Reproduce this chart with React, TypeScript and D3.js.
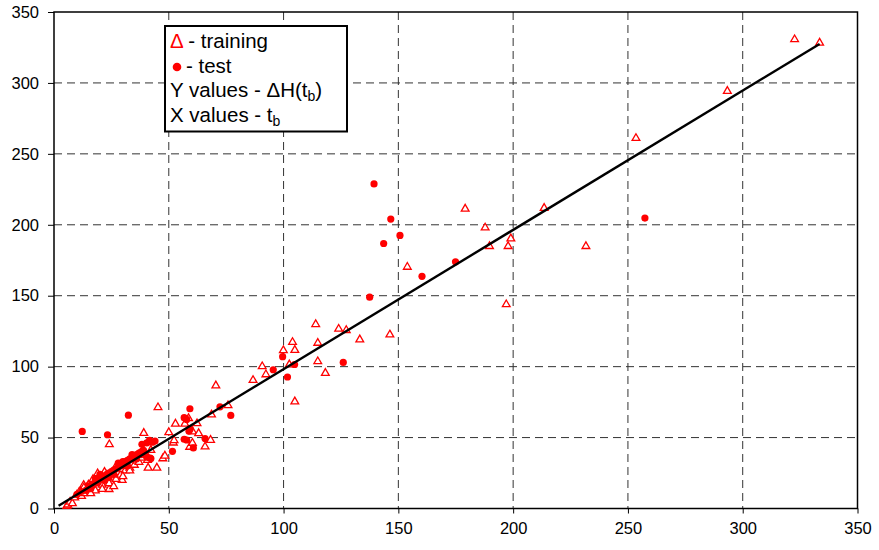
import React, { useEffect, useRef } from 'react';
import * as d3 from 'd3';

// training points [x, y]
const trainingPoints: [number, number][] = [
    [322.6, 331], [333.5, 328.6], [293.3, 294.6], [253.5, 261.4], [179.1, 211.6], [187.8, 198.3],
    [213.5, 212.1], [199, 190.6], [189.7, 185.2], [197.8, 185.2], [231.7, 185.2], [197, 144.2],
    [153.9, 170.6], [114, 130.2], [124, 126.9], [127.3, 126], [133.2, 119.4], [146.3, 122.9],
    [114.9, 117], [103.9, 117.6], [99.9, 111.8], [104.9, 112], [114.9, 104], [102.5, 101.8],
    [90.7, 100.5], [92.3, 94.8], [118.2, 95.8], [86.7, 90.8], [70.5, 87], [104.9, 75.7],
    [75.8, 73], [68.6, 66.5], [45.3, 71.6], [24.1, 45.5], [39.1, 53.5], [52.9, 60], [58.6, 63.9],
    [57, 60], [62.3, 60.3], [60.4, 54.5], [50, 54], [63, 53.3], [68.2, 48.6], [59.1, 43.7],
    [65.8, 43.9], [52, 46.7], [42.2, 41.5], [40.7, 34.5], [44.8, 29], [41, 29], [47.4, 35.6],
    [48.3, 37.5], [24, 13.9], [19, 25], [12.9, 16.8], [29.7, 20.3], [5.6, 2.1], [52.3, 48.3],
    [60.3, 46.5], [6, 3], [7, 5], [8, 4], [9, 8], [10, 10], [11, 12], [12, 9], [13, 11], [14, 15],
    [15, 13], [15, 17], [16, 14], [17, 18], [18, 16], [19, 15], [20, 19], [20, 22], [21, 17],
    [22, 20], [23, 24], [24, 18], [25, 22], [26, 25], [27, 21], [28, 26], [29, 24], [30, 28],
    [31, 27], [32, 30], [33, 29], [34, 32], [35, 31], [36, 34], [37, 33], [38, 36], [27, 30],
    [22, 26], [17, 21], [13, 15], [30, 23], [26, 16], [33, 27], [35, 36], [38, 40], [18, 13],
    [16, 11], [21, 14],
];

// test points [x, y]
const testPoints: [number, number][] = [
    [257.4, 204.7], [139.4, 228.8], [146.7, 204], [150.7, 192.5], [143.6, 186.8], [160.3, 163.7],
    [174.9, 173.9], [137.5, 149], [99.6, 107], [104.8, 101.5], [95.5, 97.8], [126, 103],
    [101.7, 92.7], [72.3, 71.7], [77, 65.6], [32.4, 65.8], [12.3, 54.3], [23.3, 52], [59.2, 70.3],
    [56.7, 64], [57.8, 62.8], [59.3, 56.1], [58.8, 54.5], [65.8, 49.3], [56.7, 48.8], [57.8, 48.3],
    [60.7, 42.7], [51.6, 40.3], [38.3, 45.3], [41.6, 48], [44, 47.5], [42.9, 46.7], [40.4, 46.2],
    [40.7, 36.1], [42.2, 35.2], [41.9, 35.6], [40, 37.5],
    [10, 10], [12, 12], [14, 13], [15, 16], [17, 17], [18, 19], [19, 18], [20, 21], [21, 22],
    [22, 23], [23, 24], [24, 25], [25, 26], [26, 27], [27, 28], [28, 29], [29, 30], [30, 31],
    [31, 33], [32, 34], [33, 35], [34, 36], [35, 37], [36, 38], [37, 39], [38, 40], [39, 41],
    [26, 24], [22, 20], [30, 33], [34, 38], [28, 32], [24, 22], [32, 30], [36, 35], [18, 21],
    [16, 14], [20, 24], [38, 38],
];

// fitted line end points
const fitX = [2, 333.5];
const fitY = [2, 327.5];

const xTicks = [0, 50, 100, 150, 200, 250, 300, 350];
const yTicks = [0, 50, 100, 150, 200, 250, 300, 350];

const RED = '#ff0000';

const App: React.FC = () => {
    const chartRef = useRef<SVGSVGElement | null>(null);

    useEffect(() => {
        if (!chartRef.current) return;
        const svg = d3.select(chartRef.current);
        svg.selectAll('*').remove();

        const width = 879;
        const height = 550;
        const left = 54, right = 857.5, top = 12, bottom = 508.5;

        svg.attr('width', width).attr('height', height);

        const x = d3.scaleLinear().domain([0, 350]).range([left, right]);
        const y = d3.scaleLinear().domain([0, 350]).range([bottom, top]);

        svg.append('rect')
            .attr('width', width).attr('height', height).attr('fill', 'white');

        // grid
        const grid = svg.append('g');
        grid.selectAll('line.gx')
            .data(xTicks.filter(t => t > 0 && t < 350))
            .enter().append('line')
            .attr('x1', d => x(d)).attr('x2', d => x(d))
            .attr('y1', top).attr('y2', bottom)
            .attr('stroke', '#333').attr('stroke-width', 1)
            .attr('stroke-dasharray', '8,5');
        grid.selectAll('line.gy')
            .data(yTicks.filter(t => t > 0 && t < 350))
            .enter().append('line')
            .attr('x1', left).attr('x2', right)
            .attr('y1', d => y(d)).attr('y2', d => y(d))
            .attr('stroke', '#333').attr('stroke-width', 1)
            .attr('stroke-dasharray', '8,5');

        // axes
        const xAxis = d3.axisBottom(x).tickValues(xTicks).tickSize(5).tickPadding(9);
        const yAxis = d3.axisLeft(y).tickValues(yTicks).tickSize(6).tickPadding(9);

        const gx = svg.append('g').attr('transform', `translate(0,${bottom})`).call(xAxis);
        const gy = svg.append('g').attr('transform', `translate(${left},0)`).call(yAxis);
        [gx, gy].forEach(g => {
            g.select('.domain').remove();
            g.selectAll('line').attr('stroke', '#000').attr('stroke-width', 1);
            g.selectAll('text')
                .attr('fill', '#000')
                .style('font-family', 'Liberation Sans, Arial, sans-serif')
                .style('font-size', '16.5px');
        });

        // frame
        svg.append('rect')
            .attr('x', left).attr('y', top)
            .attr('width', right - left).attr('height', bottom - top)
            .attr('fill', 'none').attr('stroke', '#000').attr('stroke-width', 1.5);

        // training triangles
        const tri = d3.symbol().type(d3.symbolTriangle).size(26);
        svg.append('g').selectAll('path')
            .data(trainingPoints)
            .enter().append('path')
            .attr('d', tri as any)
            .attr('transform', d => `translate(${x(d[0])},${y(d[1]) + 0.5})`)
            .attr('fill', 'white')
            .attr('stroke', RED)
            .attr('stroke-width', 1.3);

        // test dots
        svg.append('g').selectAll('circle')
            .data(testPoints)
            .enter().append('circle')
            .attr('cx', d => x(d[0]))
            .attr('cy', d => y(d[1]))
            .attr('r', 3.6)
            .attr('fill', RED);

        // fitted line
        const line = d3.line<number>()
            .x((_d, i) => x(fitX[i]))
            .y(d => y(d));
        svg.append('path')
            .attr('d', line(fitY) as string)
            .attr('fill', 'none')
            .attr('stroke', '#000')
            .attr('stroke-width', 2.4);

        // legend
        const lg = svg.append('g').style('font-family', 'Liberation Sans, Arial, sans-serif').style('font-size', '20.5px');
        lg.append('rect')
            .attr('x', 165).attr('y', 26).attr('width', 182).attr('height', 105.5)
            .attr('fill', 'white').attr('stroke', '#000').attr('stroke-width', 2);

        const t1 = lg.append('text').attr('x', 170).attr('y', 48);
        t1.append('tspan').attr('fill', RED).text('Δ');
        t1.append('tspan').attr('fill', '#000').text(' - training');

        lg.append('circle').attr('cx', 177).attr('cy', 67).attr('r', 4.3).attr('fill', RED);
        lg.append('text').attr('x', 186).attr('y', 73).attr('fill', '#000').text('- test');

        const t3 = lg.append('text').attr('x', 170).attr('y', 97).attr('fill', '#000');
        t3.append('tspan').text('Y values - ΔH(t');
        t3.append('tspan').attr('font-size', '14px').attr('dy', 4).text('b');
        t3.append('tspan').attr('dy', -4).text(')');

        const t4 = lg.append('text').attr('x', 170).attr('y', 122).attr('fill', '#000');
        t4.append('tspan').text('X values - t');
        t4.append('tspan').attr('font-size', '14px').attr('dy', 4).text('b');
    }, []);

    return (
        <div style={{ position: 'absolute', left: 0, top: 0 }}>
            <svg ref={chartRef} style={{ display: 'block' }}></svg>
        </div>
    );
};

export default App;
